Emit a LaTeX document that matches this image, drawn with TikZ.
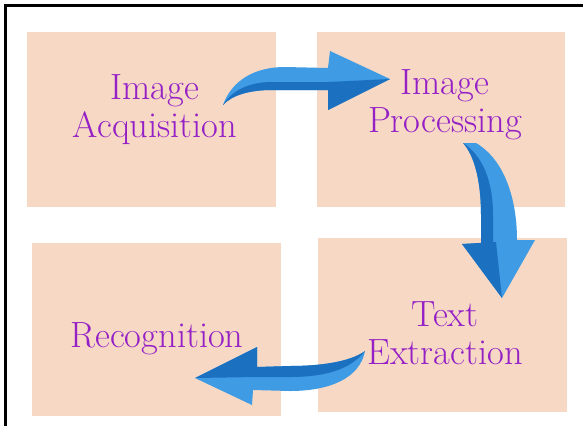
\documentclass[tikz,border=0pt]{standalone}
\definecolor{peach}{RGB}{247,216,196}
\definecolor{txtpurple}{RGB}{148,32,198}
\definecolor{blueL}{RGB}{62,155,228}
\definecolor{blueD}{RGB}{28,112,192}
\begin{document}
\begin{tikzpicture}[x=1pt,y=-1pt,
  stagebox/.style={fill=peach,draw=none,inner sep=0pt},
  lbl/.style={text=txtpurple,font=\fontsize{36.5}{38.5}\selectfont,align=center,inner sep=0pt,anchor=north},
  light/.style={fill=blueL},
  dark/.style={fill=blueD}]
\useasboundingbox (0,0) rectangle (583,426);
\fill[white] (0,0) rectangle (583,426);
% frame
\draw[line width=3.3pt] (5.3,426) -- (5.3,5.3) -- (583,5.3);
% boxes
\node[stagebox,minimum width=249pt,minimum height=175pt] (b1) at (151.5,119.5) {};
\node[stagebox,minimum width=248pt,minimum height=175pt] (b2) at (441,119.5) {};
\node[stagebox,minimum width=249pt,minimum height=173pt] (b3) at (156.5,329.5) {};
\node[stagebox,minimum width=249pt,minimum height=174pt] (b4) at (442.5,325) {};
% labels
\node[lbl] (t1) at (155,74) {Image\\Acquisition};
\node[lbl] (t2) at (445,69) {Image\\Processing};
\node[lbl] (t3) at (157,322) {Recognition};
\node[lbl] (t4) at (445,301) {Text\\Extraction};
% arrow 1 (top, rightwards)
\path[light] (223,105) .. controls (232,80) and (255,67) .. (285,67) -- (328,68)
  -- (330,51) -- (390,79) -- (328,110) -- (328,90) -- (272,90)
  .. controls (250,90) and (232,95) .. (223,105) -- cycle;
\path[dark] (223,105) .. controls (232,90) and (250,82) .. (272,82) -- (328,82)
  -- (328,90) -- (272,90) .. controls (250,90) and (232,95) .. (223,105) -- cycle;
\path[dark] (328,82) -- (390,79) -- (328,110) -- cycle;
% arrow 2 (right, downwards)
\path[light] (463,143) -- (476,143) .. controls (505,160) and (517,200) .. (517,240)
  -- (535,240) -- (502,298) -- (462,244) -- (481,243) -- (481,215)
  .. controls (481,180) and (474,155) .. (463,143) -- cycle;
\path[dark] (463,143) .. controls (474,155) and (481,180) .. (481,215) -- (481,243)
  -- (493,243) -- (493,215) .. controls (493,180) and (482,155) .. (463,143) -- cycle;
\path[dark] (462,244) -- (496,242) -- (502,298) -- cycle;
% arrow 3 (bottom, leftwards)
\path[light] (365,351) .. controls (350,362) and (320,366) .. (290,366) -- (257,367)
  -- (257,347) -- (195,378) -- (252,405) -- (253,390) -- (290,391)
  .. controls (330,391) and (360,378) .. (365,351) -- cycle;
\path[dark] (365,351) .. controls (350,362) and (320,366) .. (290,366) -- (257,367)
  -- (257,377) -- (290,377) .. controls (328,377) and (352,368) .. (365,351) -- cycle;
\path[dark] (257,347) -- (195,378) -- (257,377) -- cycle;
\end{tikzpicture}
\end{document}
